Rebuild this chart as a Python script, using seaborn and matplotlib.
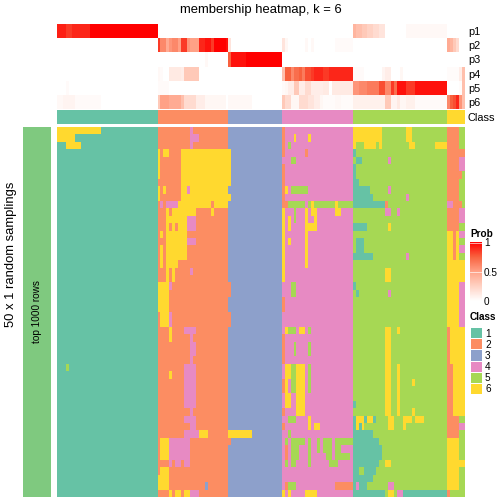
import numpy as np
import pandas as pd
import matplotlib
matplotlib.use("Agg")
import matplotlib.pyplot as plt
import seaborn as sns
from matplotlib.colors import ListedColormap, LinearSegmentedColormap

plt.rcParams["font.family"] = ["Liberation Sans", "DejaVu Sans"]

# columns are split in 6 groups (predicted class of each sample)
group_sizes = [34, 24, 18, 24, 32, 6]
group_class = [1, 2, 3, 4, 5, 6]
class_names = ["1", "2", "3", "4", "5", "6"]
class_colors = ["#66C2A5", "#FC8D62", "#8DA0CB", "#E78AC3", "#A6D854", "#FFD92F"]
row_anno_color = "#7FC97F"
p_names = ["p1", "p2", "p3", "p4", "p5", "p6"]

# membership probabilities, run-length per group ("value*count"), missing -> 0
p1 = "0.92*3 0.85*2 0.9*6 1*23 | | | | 0.4 0.35*2 0.3*2 0.25*2 0.2*2 0.15*2 0*7 0.04*14 | "
p2 = (" | 0.85 0.6*2 0.45 0.55 0.6*2 0.5 0.85*2 0.55 0.5*3 0.9*2 0.95*2 0.85 1*4 0.95 | 0.15"
      " | 0.15 0.05 0*6 0.04 0 0.04 0*7 0.03*6 | | 0.45 0.4 0.3 0.2")
p3 = " | 0*16 0.04 | 0.75 0.95*5 1*12 | | | "
p4 = (" | 0.04 0.03 0*2 0.12*4 0.1 0.3*5 | | 0.35 0.75*2 0.6 0.7*2 0.75 0.65 0.8*2 0.85 0.9*3 0.85*2 0.9*8"
      " | 0.03*4 0*6 0.06 0.1*2 0*3 0.05 | 0.02*4 0.1 0.35")
p5 = (" 0*3 0.03 | 0.03*4 | | 0.03 0.05 0.1*2 0.3*2 0.1*2 0.2*2 0.1*4 0.12*2 0 0.12*7"
      " | 0.55*2 0.6*3 0.65*4 0.8*2 0.6*2 0.85 0.7 0.95*3 0.85*3 0.95*11 | 0*4 0.02 0.35")
p6 = ("0.04*2 0.06*4 0.03*9 | 0.3 0.5*3 0.45*4 0.35 0.2*4 0.1*3 0.05*7 | 0.04*8"
      " | 0.3 0.2*2 0.05*3 0.2*3 0.15*2 0.1*2 0.05 0.02*4 0.04*2 0.02*4"
      " | 0.08*11 0.3*2 0.06*2 0.12 0.05*2 0.08*3 0.03*11 | 0.6 0.75 0.8 0.9 0.55 0.35")
p_specs = [p1, p2, p3, p4, p5, p6]

# class of every column in each of the 50 samplings ("class*count"), missing -> group class
samplings = [
    "6*15 | 2*11 4 | | 2 | 6*10 5*8 6*2 | 2*4 5*2",
    "6*6 | 2*11 4*3 | | 2 4*3 6 4*4 6 | 6*10 5*8 6*2 | 2*4 5*2",
    "1*3 6*5 | 2*11 4 | | 2 4 5 | 6 5*3 6*4 5 6 5*9 6*2 5*7 6*4 | 2*4 5*2",
    " | 6 2 6*2 2*4 6*16 | 6 | 2 4*7 2 | 1 | 2*6",
    " | 6 2*7 6*16 | 6 | 4*3 5*2 | 5 1*2 5*9 4 | 2*4 4*2",
    " | 6 2*7 6*16 | 6 | 2 | 1 | 2*4 4*2",
    " | 6 2*7 6*16 | 6 | 2 | 1 | 2*5 5",
    " | 2*8 6*16 | 6 | 2 | 1*2 | 2*4 5*2",
    " | 6 2 6 2*5 6*2 4 6*13 | | 2 6 4 5*6 | 1*6 5*6 4 | 2*4 5*2",
    " | 6 2*7 6*16 | 6 | 2 | 1*7 5*11 4 | 2*4 5*2",
    " | 2 4 2 4*4 6*11 2 6*5 | | 2*2 5*6 4 5 6 5*7 6 5*5 | 1*11 2 | 4*2 2*3 5",
    " | 2*3 6 2 6*8 2*5 6 | | 6 4*3 5 4*3 6 4 6*2 4*6 6*2 | 5*11 4*2 5*2 4 | 2*4 4*2",
    " | 2*3 6*7 4*3 | | 6 4 6 4 5 4*3 6 4*2 6 | | 2*4 4*2",
    " | 2*3 6 2 6 2 6*3 4*3 | | 6 4 6 4*5 6*4 | 1*5 5*7 6 | 2*4 5*2",
    " | 2 6 2 6*7 | | 6 4*7 6 | | 6*2 2 6 4*2",
    " | 2*3 6*7 4*3 | | 6 4 6 4*5 6 | 5 1*3 | 6*2 2 6 5*2",
    " | 2 6 2 6*7 | | 6 4*7 6 | 5 1*3 | 6*2 2 6 4*2",
    " | 2 6 2 6*7 | | 6 4*7 6 | 1*7 5*11 4 | 6*2 2 6 5*2",
    " | 2 6 2 6*4 | | 6 4*7 6 | | 6*6",
    " | 2*3 6 2 6 2*5 4 | | 6 | 5*11 6*2 | 6*6",
    " | 2*3 6 2 6 | | 6 | 5*11 6*2 | 6*6",
    " | 6*4 4 | 2 | 4*3 5*2 | 1 | 6*4 4*2",
    " | 6*4 | 2 | 4*3 5*2 | 5 1 5*10 4 | 6*4 4*2",
    " | 6*4 | | 2 | | 6*4 4*2",
    " | 6*4 | | 2 | | 6*4 4*2",
    " | 2 6*3 4 | 2 | | | 6*4 4*2",
    " | 2 6*3 4 | 2 | | | 6*4 4*2",
    " | 2*4 6 2*4 4*4 | | 4 6 5*3 4 6*2 4 5 | 5*11 6*2 5*2 6 | 2 6*5",
    " | 2*4 6 2*6 4 | | 2 | 5*11 6*2 | 2 6*5",
    " | 2*11 4*2 | | 2 4*3 5 4*4 5 | 5*11 6*2 | 2 6*5",
    " | 2*11 4*2 | | 2 4*3 5 4*4 5 | 5*11 6*2 | 2 6*5",
    " | 2*11 4 | | 2 | 5*11 6*2 | 2 6*5",
    "1*3 5 | 2*9 4*4 | | 4 6*2 5*2 6*3 4 5 | 5*11 6*2 5*2 6 | 2*2 6*4",
    " | 2*4 6 2*4 4*4 | | 4 6*2 5*2 6*3 4 5 | 5*11 6*2 5*2 6 | 2*2 6*4",
    " | 2*9 4*4 | | 2 6 4 5*2 6*3 4 5 | 5*11 6*2 5*2 6 5*4 6 | 2*2 6*4",
    " | 2*9 4*4 | | 2 6 4 5*2 6*3 4 5 | 5*11 6*2 5*2 6 | 2*2 6*4",
    " | 2*9 4*4 | | 4 6*2 4*2 6*3 | 5*11 6*2 5*2 6 | 2*2 6*4",
    " | 2*9 4*4 | | 4 6*2 4*2 6*3 | 1 5*10 6*2 5*2 6 | 2*2 6*4",
    " | 2*11 4 | | 2 4*4 6*3 | 5*11 6*2 5*2 6 5*4 6 | 2*2 6*4",
    " | 2*9 4*4 | | 4*2 5*3 4*4 6 | 1 6*3 1 6*2 1 5*4 6*2 5*3 6*3 5 6*3 | 2*4 5*2",
    " | 2*11 4*2 | | 2 4*8 6 4 6*2 | 1 6 1 6 5*8 6*2 5*3 6 | 2*4 4*2",
    " | 2*9 4*5 6*3 | 6*8 | 4*2 5 | 1*7 | 2*4 5*2",
    " | 2 6*3 4*7 | 2 | 4 5 4 5*5 4 5 4*2 5 4 5*3 4 5*6 | 1*9 | 6*4 5*2",
    " | 2 6*3 4*7 | | 4 2 4 5*3 4*2 4 5 4*2 5 4 5*3 4 5*2 4*4 | 1*10 | 6*4 5*2",
    " | 2 6*3 4*7 | | 4 2 4 5*3 4*3 5 4*5 5*2 4 5*5 | 1*10 | 6*4 5*2",
    " | 2*4 4 2 4*2 2 4*2 | | 4 5 4 5*2 4*4 5 4*6 5*3 | 1*9 5*2 6*2 | 6*6",
    " | 2 6*3 | | | 1*2 5*2 1*4 | 6*4 5*2",
    " | 6*4 | | | 1*7 | 6*4 5*2",
    " | 6*4 2*12 3 | | 4 2 5*3 4*13 2*6 | 1 4 1*3 5*7 4*2 | 6*4 5*2",
    " | 2*4 6 2 6*2 2 6*2 4*3 | | 6 4 6 4*5 6*4 | 1*11 5 6*2 5 4*2 1*15 | 2 5*5",
]


def expand(spec, fill):
    out = []
    for part, n, base in zip(spec.split("|"), group_sizes, fill):
        vals = []
        for tok in part.split():
            v, _, k = tok.partition("*")
            vals += [float(v)] * int(k or 1)
        out += (vals + [base] * n)[:n]
    return out


mat = np.array([expand(s, group_class) for s in samplings])
prob = pd.DataFrame([expand(s, [0] * 6) for s in p_specs], index=p_names)
col_class = pd.DataFrame([np.repeat(group_class, group_sizes)], index=["Class"])

W, H = 504, 504


def box(x0, y0, x1, y1):
    return [x0 / W, 1 - y1 / H, (x1 - x0) / W, (y1 - y0) / H]


class_cmap = ListedColormap(class_colors)
prob_cmap = LinearSegmentedColormap.from_list("prob", ["#FFFFFF", "#FFD2C4", "#FFA287", "#F8623F", "#FF0000"])

fig = plt.figure(figsize=(7, 7), dpi=72)

# main body
ax = fig.add_axes(box(57, 127, 465, 497))
sns.heatmap(mat, ax=ax, cmap=class_cmap, vmin=0.5, vmax=6.5, cbar=False,
            xticklabels=False, yticklabels=False)

# top annotation, probabilities
axp = fig.add_axes(box(57, 24, 465, 109))
sns.heatmap(prob, ax=axp, cmap=prob_cmap, vmin=0, vmax=1, cbar=False,
            xticklabels=False, yticklabels=True)
axp.yaxis.tick_right()
axp.tick_params(axis="y", length=0, pad=3, labelsize=11, labelrotation=0)

# top annotation, class
axc = fig.add_axes(box(57, 110, 465, 124))
sns.heatmap(col_class, ax=axc, cmap=class_cmap, vmin=0.5, vmax=6.5, cbar=False,
            xticklabels=False, yticklabels=True)
axc.yaxis.tick_right()
axc.tick_params(axis="y", length=0, pad=3, labelsize=11, labelrotation=0)

# row annotation
axr = fig.add_axes(box(23, 127, 51, 497))
sns.heatmap(np.ones((len(samplings), 1)), ax=axr, cmap=ListedColormap([row_anno_color]),
            cbar=False, xticklabels=False, yticklabels=False)
axr.text(0.5, 0.5, "top 1000 rows", rotation=90, ha="center", va="center",
         fontsize=10, transform=axr.transAxes)

fig.text(261 / W, 1 - 10.5 / H, "membership heatmap, k = 6", ha="center", va="center", fontsize=13)
fig.text(11 / W, 1 - 254 / H, "50 x 1 random samplings", rotation=90, ha="center", va="center", fontsize=13)

# legends
fig.text(470 / W, 1 - 234 / H, "Prob", fontsize=10, fontweight="bold", va="center")
cax = fig.add_axes(box(470, 242, 482, 301))
cb = fig.colorbar(axp.collections[0], cax=cax, ticks=[0, 0.5, 1])
cb.outline.set_visible(False)
cb.set_ticklabels(["0", "0.5", "1"])
cax.tick_params(length=0, labelsize=10, pad=2)
for v in [0.5, 0.985]:
    cax.axhline(v, color="white", lw=0.8, alpha=0.8)

fig.text(470 / W, 1 - 317 / H, "Class", fontsize=10, fontweight="bold", va="center")
axl = fig.add_axes(box(470, 327, 482, 394))
sns.heatmap(pd.DataFrame(np.arange(1, 7).reshape(6, 1), index=class_names), ax=axl,
            cmap=class_cmap, vmin=0.5, vmax=6.5, cbar=False, linewidths=1, linecolor="white",
            xticklabels=False, yticklabels=True)
axl.yaxis.tick_right()
axl.tick_params(axis="y", length=0, pad=3, labelsize=10, labelrotation=0)

fig.savefig("out.png", dpi=72)
